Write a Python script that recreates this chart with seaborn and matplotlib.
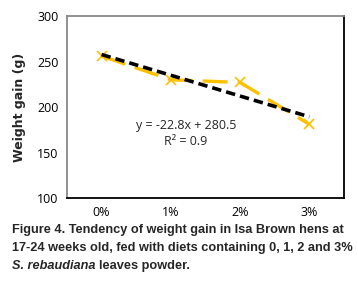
import numpy as np
import pandas as pd
import matplotlib
matplotlib.use("Agg")
import matplotlib.pyplot as plt
import seaborn as sns

# data
levels = ["0%", "1%", "2%", "3%"]
weight_gain = [256, 230, 227, 181]
y_ticks = [100, 150, 200, 250, 300]

df = pd.DataFrame({"level": levels, "pos": np.arange(len(levels)), "gain": weight_gain})

# linear trend (x = 1..4 like excel)
slope, intercept = np.polyfit(df["pos"] + 1, df["gain"], 1)
r2 = np.corrcoef(df["pos"] + 1, df["gain"])[0, 1] ** 2
df["trend"] = slope * (df["pos"] + 1) + intercept

sns.set_style("white")
plt.rcParams["font.family"] = ["DejaVu Sans"]

fig = plt.figure(figsize=(3.58, 2.81), dpi=100)
ax = fig.add_axes([0.187, 0.295, 0.774, 0.648])

sns.lineplot(data=df, x="pos", y="gain", ax=ax, color="#FFC000", lw=2.4,
             marker="x", markersize=7, markeredgewidth=1.2, markeredgecolor="#FFC000",
             dashes=False, zorder=2)
ax.lines[-1].set_dashes([7.5, 3])
sns.lineplot(data=df, x="pos", y="trend", ax=ax, color="black", lw=2.6, zorder=3)
ax.lines[-1].set_dashes([2.6, 1.4])

ax.set_xlim(-0.5, 3.5)
ax.set_ylim(100, 300)
ax.set_yticks(y_ticks)
ax.set_xticks(df["pos"])
ax.set_xticklabels(levels)
ax.tick_params(axis="both", length=0, labelsize=9, colors="black", pad=6)
for lab in ax.get_xticklabels() + ax.get_yticklabels():
    lab.set_family("Open Sans")
ax.set_xlabel("")
ax.set_ylabel("Weight gain (g)", fontsize=9, fontweight="bold", labelpad=8)

for s in ["top", "left"]:
    ax.spines[s].set_color("#888888")
for s in ["bottom", "right"]:
    ax.spines[s].set_color("black")
for s in ax.spines.values():
    s.set_linewidth(1.3)

ax.text(0.43, 0.40, f"y = {slope:.1f}x + {intercept:.1f}", transform=ax.transAxes,
        ha="center", va="center", fontsize=9, family="Open Sans")
ax.text(0.43, 0.31, f"R² = {r2:.1f}", transform=ax.transAxes,
        ha="center", va="center", fontsize=9, family="Open Sans")

# caption - sized so the first line spans ~334 px like the original
cap = dict(fontweight="bold", va="center", ha="left", family="Liberation Sans")
rend = fig.canvas.get_renderer()
line1 = fig.text(0.033, 1 - 230 / 281, "Figure 4. Tendency of weight gain in Isa Brown hens at",
                 fontsize=9, **cap)
w = line1.get_window_extent(rend).width
fs = 9 * 334 / w
line1.set_fontsize(fs)
fig.text(0.033, 1 - 248 / 281, "17-24 weeks old, fed with diets containing 0, 1, 2 and 3%",
         fontsize=fs, **cap)
t1 = fig.text(0.033, 1 - 266 / 281, "S. rebaudiana", style="italic", fontsize=fs, **cap)
bb = t1.get_window_extent(rend)
fig.text(bb.x1 / fig.bbox.width + 0.01, 1 - 266 / 281, "leaves powder.", fontsize=fs, **cap)

fig.savefig("out.png", dpi=100)
